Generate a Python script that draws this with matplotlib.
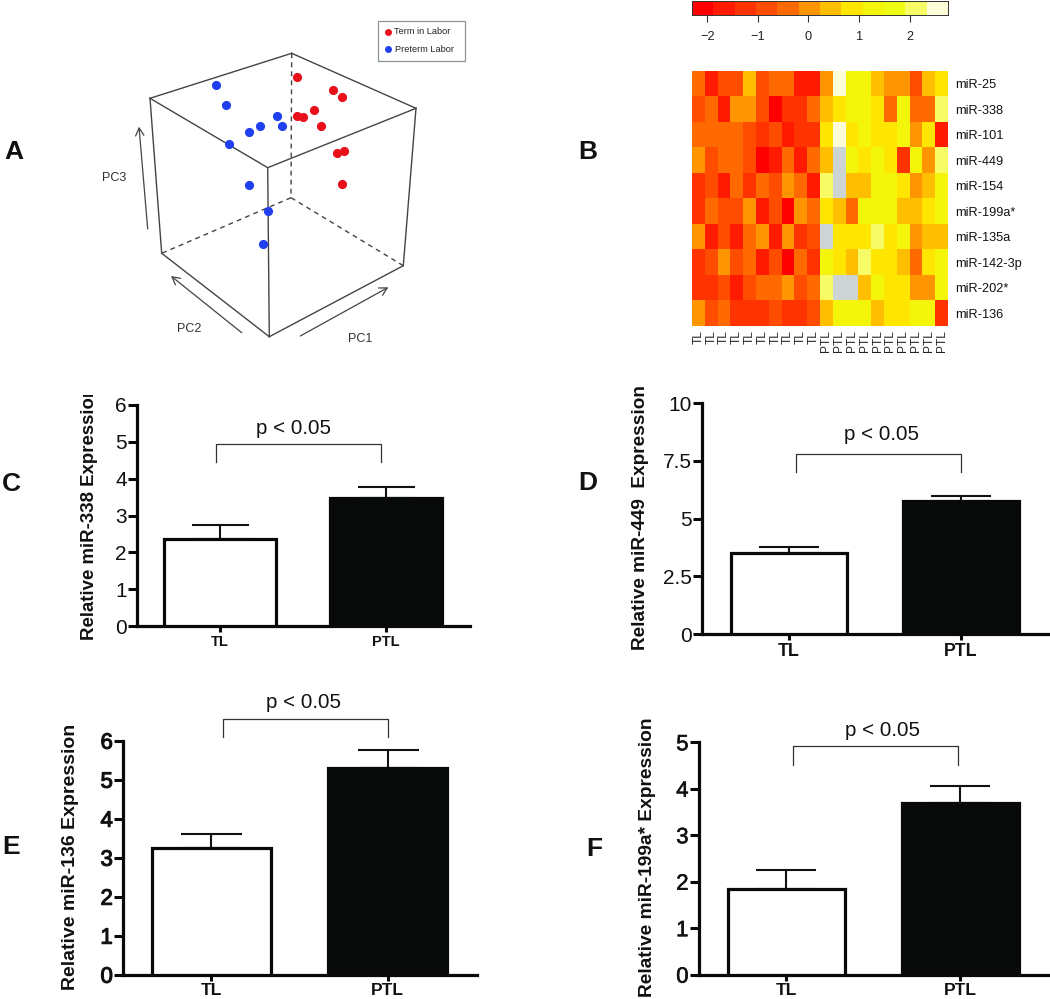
import numpy as np
import matplotlib
matplotlib.use("Agg")
import matplotlib.pyplot as plt
import matplotlib.patheffects as pe
from matplotlib.colors import ListedColormap, BoundaryNorm
from matplotlib.transforms import Bbox, TransformedBbox

plt.rcParams['font.family'] = ['Liberation Sans', 'DejaVu Sans']

# ---------- data ----------
term_x = [297.3, 332.7, 342.3, 314.3, 296.7, 303.0, 321.0, 337.0, 343.7, 341.7]
term_y = [76.7, 90.0, 97.0, 110.0, 115.7, 116.7, 126.0, 152.7, 151.3, 183.7]
preterm_x = [216.0, 225.7, 277.0, 282.0, 260.3, 249.3, 229.0, 248.7, 268.0, 262.7]
preterm_y = [84.7, 104.7, 115.7, 125.7, 125.7, 132.3, 144.0, 185.0, 210.7, 244.3]

mirs = ['miR-25', 'miR-338', 'miR-101', 'miR-449', 'miR-154', 'miR-199a*',
        'miR-135a', 'miR-142-3p', 'miR-202*', 'miR-136']
samples = ['TL'] * 10 + ['PTL'] * 10
N = np.nan
levels_tl = [
    [4, 1, 3, 3, 6, 3, 4, 4, 1, 1],
    [3, 4, 1, 5, 5, 3, 0, 2, 2, 4],
    [4, 4, 4, 4, 3, 2, 3, 1, 2, 2],
    [5, 3, 4, 4, 3, 0, 1, 4, 1, 4],
    [2, 3, 1, 4, 2, 4, 3, 5, 4, 1],
    [2, 4, 3, 3, 5, 1, 3, 0, 5, 4],
    [5, 1, 3, 1, 4, 5, 1, 5, 2, 3],
    [2, 3, 5, 3, 4, 1, 3, 0, 4, 2],
    [2, 2, 3, 1, 3, 4, 4, 5, 3, 4],
    [5, 3, 4, 2, 2, 2, 3, 2, 2, 3],
]
levels_ptl = [
    [5, 11, 8, 8, 6, 5, 5, 3, 6, 7],
    [6, 7, 8, 8, 7, 4, 8, 4, 4, 10],
    [7, 11, 7, 8, 7, 7, 8, 5, 7, 1],
    [6, N, 8, 7, 8, 7, 2, 8, 5, 10],
    [10, N, 6, 6, 8, 8, 7, 5, 6, 8],
    [7, 6, 4, 8, 8, 8, 6, 6, 7, 8],
    [N, 7, 7, 7, 10, 7, 8, 5, 6, 6],
    [8, 7, 6, 10, 7, 7, 6, 4, 7, 8],
    [10, N, N, 6, 8, 7, 7, 5, 5, 8],
    [6, 8, 8, 8, 6, 7, 7, 8, 8, 2],
]
key_colors = ['#ff0000', '#ff1a00', '#ff3300', '#ff4d00', '#ff6a00', '#ff9500',
              '#ffbf00', '#ffe600', '#f3f50a', '#eefc14', '#f7fb66', '#fdfdd8']
key_ticks = [-2, -1, 0, 1, 2]

groups = ['TL', 'PTL']
c_vals, c_err = [2.36, 3.47], [0.38, 0.30]
d_vals, d_err = [3.50, 5.76], [0.26, 0.22]
e_vals, e_err = [3.25, 5.30], [0.35, 0.45]
f_vals, f_err = [1.84, 3.70], [0.41, 0.35]

# ---------- helpers ----------
W, H = 1050, 999
fig = plt.figure(figsize=(W / 100, H / 100), dpi=100, facecolor='white')


def px_axes(l, t, r, b, **kw):
    return fig.add_axes([l / W, 1 - b / H, (r - l) / W, (b - t) / H], **kw)


ov = px_axes(0, 0, W, H, zorder=10)
ov.set_xlim(0, W)
ov.set_ylim(H, 0)
ov.axis('off')
ov.patch.set_alpha(0)

# panel letters
for s, x, y in [('A', 14, 152), ('B', 588, 152), ('C', 11, 484),
                ('D', 588, 483), ('E', 11, 847), ('F', 594, 849)]:
    ov.text(x, y, s, fontsize=19, fontweight='bold', ha='center', va='center', color='#111111')

# ---------- panel A ----------
edge = '#444444'
v = dict(bt=(291.7, 53.3), lt=(150, 98.3), rt=(416, 108.3), ft=(267.7, 167.7),
         lb=(161.7, 253.3), fb=(269.3, 336.7), rb=(403.3, 265.7), bb=(291, 197.7))
for a, b in [('bt', 'lt'), ('bt', 'rt'), ('lt', 'ft'), ('rt', 'ft'), ('lt', 'lb'),
             ('rt', 'rb'), ('ft', 'fb'), ('lb', 'fb'), ('fb', 'rb')]:
    ov.plot(*zip(v[a], v[b]), color=edge, lw=1.0, zorder=2)
for a, b in [('bt', 'bb'), ('bb', 'lb'), ('bb', 'rb')]:
    ov.plot(*zip(v[a], v[b]), color=edge, lw=1.0, ls=(0, (3.5, 3)), zorder=2)
for start, end in [((147.7, 229), (139, 126.7)), ((241.7, 332.7), (171, 276)),
                   ((300.3, 336), (388.3, 287.3))]:
    ov.annotate('', xy=end, xytext=start,
                arrowprops=dict(arrowstyle='->,head_length=0.55,head_width=0.3', color=edge, lw=0.9,
                                shrinkA=0, shrinkB=0))
for s, x, y in [('PC3', 114, 178), ('PC2', 189, 329), ('PC1', 360, 339)]:
    ov.text(x, y, s, fontsize=9, ha='center', va='center', color='#333333')
ov.plot(term_x, term_y, 'o', color='#e8101a', ms=6.6, mew=0, zorder=3)
ov.plot(preterm_x, preterm_y, 'o', color='#2040f0', ms=6.6, mew=0, zorder=3)
ov.add_patch(plt.Rectangle((377.5, 21), 87, 40, fc='white', ec='#8a9494', lw=0.9, zorder=3))
ov.plot([388.3], [31.7], 'o', color='#e8101a', ms=5, mew=0, zorder=4)
ov.plot([388.3], [49.3], 'o', color='#2040f0', ms=5, mew=0, zorder=4)
ov.text(393.7, 31.7, 'Term in Labor', fontsize=6.6, va='center', color='#222222', zorder=4)
ov.text(394.7, 49.3, 'Preterm Labor', fontsize=6.6, va='center', color='#222222', zorder=4)

# ---------- panel B ----------
matrix = np.hstack([np.array(levels_tl, float), np.array(levels_ptl, float)])
cmap = ListedColormap(key_colors)
cmap.set_bad('#ccd4d4')
ax = px_axes(692, 71, 948, 326)
ax.imshow(np.ma.masked_invalid(matrix), cmap=cmap, vmin=-0.5, vmax=11.5, aspect='auto',
          interpolation='nearest')
ax.set_xticks(range(len(samples)), samples, rotation=90, fontsize=8.6, color='#222222')
ax.set_yticks(range(len(mirs)), mirs, fontsize=9.2, color='#111111')
ax.yaxis.tick_right()
ax.tick_params(length=0, axis='both')
ax.tick_params(axis='x', pad=3)
ax.tick_params(axis='y', pad=5)
for sp in ax.spines.values():
    sp.set_visible(False)

cax = px_axes(692, 0.5, 948, 15)
lo, hi = -2.3, 2.755
edges = np.linspace(lo, hi, len(key_colors) + 1)
cax.pcolormesh(edges, [0, 1], (np.arange(len(key_colors)))[None, :].astype(float), cmap=cmap,
               norm=BoundaryNorm(np.arange(-0.5, 12), cmap.N))
cax.set_xlim(lo, hi)
cax.set_yticks([])
cax.set_xticks(key_ticks, ['\u22122', '\u22121', '0', '1', '2'], fontsize=9.2, color='#222222')
cax.tick_params(axis='x', length=5, width=0.8, pad=6.5, color='#333333')
for sp in cax.spines.values():
    sp.set_linewidth(0.7)
    sp.set_color('#333333')


# ---------- bar panels ----------
def bars(vals, err, ymax, yticks, yticklabels, axis_x, y_top, y0, right, c0, c1, bar_px,
         cap_px, ylabel, yl_x, yl_y, yl_size, xlab_y, xlab_size, tick_size, tick_stroke,
         br_x0, br_x1, br_top, br_bot, p_x, p_y, clip=None):
    a = px_axes(axis_x, y_top, right, y0)
    sep = c1 - c0
    a.set_xlim((axis_x - c0) / sep, (right - c0) / sep)
    a.set_ylim(0, ymax)
    x = [0, 1]
    a.bar(x, vals, width=bar_px / sep, color=['white', '#080a0a'], edgecolor='#080a0a',
          linewidth=2.3, zorder=3)
    a.errorbar(x, vals, yerr=[[0, 0], err], fmt='none', ecolor='#111111', elinewidth=1.5,
               capsize=cap_px * 0.36, capthick=1.5, zorder=2)
    a.patch.set_alpha(0)
    a.spines[['top', 'right']].set_visible(False)
    a.spines[['left', 'bottom']].set_linewidth(2.3)
    a.spines[['left', 'bottom']].set_color('#0a0a0a')
    a.set_yticks(yticks, yticklabels, fontsize=tick_size, color='#111111')
    if tick_stroke:
        for lab in a.get_yticklabels():
            lab.set_path_effects([pe.withStroke(linewidth=tick_stroke, foreground='#111111')])
    a.set_xticks(x, groups)
    a.set_xticklabels([])
    a.tick_params(axis='y', length=6.5, width=2.2, pad=1, color='#0a0a0a')
    a.tick_params(axis='x', length=4.5, width=2.2, pad=1, color='#0a0a0a')
    for cx, g in zip((c0, c1), groups):
        ov.text(cx, xlab_y, g, fontsize=xlab_size, fontweight='bold', ha='center', va='center',
                color='#111111')
    ov.plot([br_x0, br_x0, br_x1, br_x1], [br_bot, br_top, br_top, br_bot], color='#333333', lw=0.9)
    ov.text(p_x, p_y, 'p < 0.05', fontsize=14.8, ha='center', va='center', color='#111111')
    t = ov.text(yl_x, yl_y, ylabel, rotation=90, fontsize=yl_size, fontweight='bold',
                ha='center', va='center', color='#111111')
    if clip is not None:
        t.set_clip_on(True)
        t.set_clip_box(TransformedBbox(Bbox([[0, clip], [W, H]]), ov.transData))


bars(c_vals, c_err, 6, range(7), [str(i) for i in range(7)], 137.3, 405, 626, 470, 220, 385.5,
     112, 57, 'Relative miR-338 Expression', 90, 512.5, 13.4, 642, 10.5, 15, 0,
     216, 381, 444, 462, 294, 428, clip=395)
bars(d_vals, d_err, 10, [0, 2.5, 5, 7.5, 10], ['0', '2.5', '5', '7.5', '10'], 702.3, 403.3, 634,
     1050, 788.7, 961, 116, 60, 'Relative miR-449  Expression', 640.7, 517.5, 13.7, 652, 12.8, 15, 0,
     796, 961, 454, 472, 882, 435)
bars(e_vals, e_err, 6, range(7), [str(i) for i in range(7)], 123.3, 740.7, 974.7, 476.7, 211, 387.5,
     119, 61, 'Relative miR-136 Expression', 70.7, 857, 14, 990.5, 12.5, 16, 0.8,
     223, 387.7, 718.7, 736.7, 303, 702.7)
bars(f_vals, f_err, 5, range(6), [str(i) for i in range(6)], 699, 742.3, 974.7, 1050, 786.3, 960,
     117, 60, 'Relative miR-199a* Expression', 647, 857.5, 13.8, 990.5, 12.5, 16, 0.4,
     793.3, 957.7, 746.3, 764.7, 882.7, 730)

fig.savefig('out.png', dpi=100, facecolor='white')
